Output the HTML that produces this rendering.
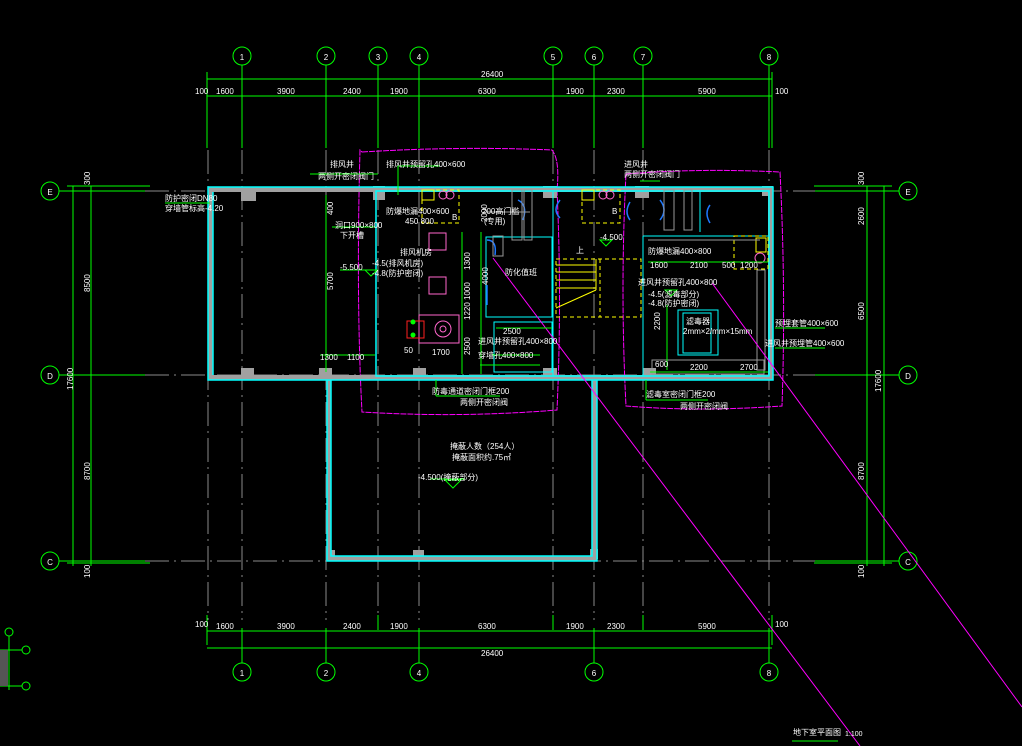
<!DOCTYPE html>
<html><head><meta charset="utf-8"><style>
html,body{margin:0;padding:0;background:#000;width:1022px;height:746px;overflow:hidden}
svg{display:block}
text{font-family:"Liberation Sans","Noto Sans CJK SC",sans-serif;fill:#fff;font-size:8px}
.g{stroke:#00ff00;stroke-width:1;fill:none}
.ax{stroke:#8a8a8a;stroke-width:1;stroke-dasharray:24 5 2 5;fill:none}
.c{stroke:#00ffff;stroke-width:1.5;fill:none}
.w{fill:#a0a0a0}
.m{stroke:#ff00ff;stroke-width:1;fill:none}
.y{stroke:#ffff00;stroke-width:1;fill:none}
.yd{stroke:#ffff00;stroke-width:1;fill:none;stroke-dasharray:4 3}
.b{stroke:#1e78ff;stroke-width:1.5;fill:none}
.ct{font-size:11px;text-anchor:middle;fill:#fff}
</style></head><body>
<svg width="1022" height="746" viewBox="0 0 1022 746" xmlns="http://www.w3.org/2000/svg">
<g class="ax">
<line x1="242" y1="150" x2="242" y2="620"/><line x1="326" y1="150" x2="326" y2="620"/>
<line x1="378" y1="150" x2="378" y2="620"/><line x1="419" y1="150" x2="419" y2="620"/>
<line x1="553" y1="150" x2="553" y2="620"/><line x1="594" y1="150" x2="594" y2="620"/>
<line x1="643" y1="150" x2="643" y2="620"/><line x1="769" y1="150" x2="769" y2="620"/>
<line x1="208" y1="150" x2="208" y2="620"/>
<line x1="145" y1="191" x2="815" y2="191"/><line x1="145" y1="375" x2="815" y2="375"/><line x1="145" y1="561" x2="815" y2="561"/>
</g>
<g class="g">
<line x1="242" y1="65" x2="242" y2="148"/><line x1="326" y1="65" x2="326" y2="148"/><line x1="378" y1="65" x2="378" y2="148"/><line x1="419" y1="65" x2="419" y2="148"/><line x1="553" y1="65" x2="553" y2="148"/><line x1="594" y1="65" x2="594" y2="148"/><line x1="643" y1="65" x2="643" y2="148"/><line x1="769" y1="65" x2="769" y2="148"/>
<line x1="207" y1="72" x2="207" y2="148"/><line x1="772" y1="72" x2="772" y2="148"/>
<line x1="207" y1="79" x2="772" y2="79"/><line x1="207" y1="96" x2="772" y2="96"/>
<circle cx="242" cy="56" r="9"/><circle cx="326" cy="56" r="9"/><circle cx="378" cy="56" r="9"/><circle cx="419" cy="56" r="9"/><circle cx="553" cy="56" r="9"/><circle cx="594" cy="56" r="9"/><circle cx="643" cy="56" r="9"/><circle cx="769" cy="56" r="9"/>
<line x1="242" y1="628" x2="242" y2="663"/><line x1="326" y1="628" x2="326" y2="663"/><line x1="419" y1="628" x2="419" y2="663"/><line x1="594" y1="628" x2="594" y2="663"/><line x1="769" y1="628" x2="769" y2="663"/><line x1="378" y1="615" x2="378" y2="630"/><line x1="553" y1="615" x2="553" y2="630"/><line x1="643" y1="615" x2="643" y2="630"/>
<line x1="207" y1="615" x2="207" y2="645"/><line x1="772" y1="615" x2="772" y2="645"/>
<line x1="207" y1="631" x2="772" y2="631"/><line x1="207" y1="648" x2="772" y2="648"/>
<circle cx="242" cy="672" r="9"/><circle cx="326" cy="672" r="9"/><circle cx="419" cy="672" r="9"/><circle cx="594" cy="672" r="9"/><circle cx="769" cy="672" r="9"/>
<circle cx="50" cy="191" r="9"/><circle cx="50" cy="375" r="9"/><circle cx="50" cy="561" r="9"/>
<line x1="59" y1="191" x2="145" y2="191"/><line x1="59" y1="375" x2="145" y2="375"/><line x1="59" y1="561" x2="145" y2="561"/>
<line x1="67" y1="186" x2="150" y2="186"/><line x1="67" y1="563" x2="150" y2="563"/>
<line x1="73" y1="186" x2="73" y2="566"/><line x1="91" y1="186" x2="91" y2="566"/>
<circle cx="908" cy="191" r="9"/><circle cx="908" cy="375" r="9"/><circle cx="908" cy="561" r="9"/>
<line x1="815" y1="191" x2="899" y2="191"/><line x1="815" y1="375" x2="899" y2="375"/><line x1="815" y1="561" x2="899" y2="561"/>
<line x1="814" y1="186" x2="892" y2="186"/><line x1="814" y1="563" x2="892" y2="563"/>
<line x1="867" y1="186" x2="867" y2="566"/><line x1="884" y1="186" x2="884" y2="566"/>
<circle cx="9" cy="632" r="4"/><circle cx="26" cy="650" r="4"/><circle cx="26" cy="686" r="4"/>
<line x1="9" y1="636" x2="9" y2="690"/><line x1="0" y1="650" x2="22" y2="650"/><line x1="0" y1="686" x2="22" y2="686"/>
</g>
<rect x="0" y="650" width="8" height="36" fill="#555"/>
<g class="ct">
<text x="242" y="60">1</text><text x="326" y="60">2</text><text x="378" y="60">3</text><text x="419" y="60">4</text><text x="553" y="60">5</text><text x="594" y="60">6</text><text x="643" y="60">7</text><text x="769" y="60">8</text>
<text x="242" y="676">1</text><text x="326" y="676">2</text><text x="419" y="676">4</text><text x="594" y="676">6</text><text x="769" y="676">8</text>
<text x="50" y="195">E</text><text x="50" y="379">D</text><text x="50" y="565">C</text>
<text x="908" y="195">E</text><text x="908" y="379">D</text><text x="908" y="565">C</text>
</g>
<g style="font-size:8px">
<text x="481" y="77">26400</text>
<text x="195" y="94">100</text><text x="216" y="94">1600</text><text x="277" y="94">3900</text><text x="343" y="94">2400</text><text x="390" y="94">1900</text><text x="478" y="94">6300</text><text x="566" y="94">1900</text><text x="607" y="94">2300</text><text x="698" y="94">5900</text><text x="775" y="94">100</text>
<text x="195" y="627">100</text><text x="216" y="629">1600</text><text x="277" y="629">3900</text><text x="343" y="629">2400</text><text x="390" y="629">1900</text><text x="478" y="629">6300</text><text x="566" y="629">1900</text><text x="607" y="629">2300</text><text x="698" y="629">5900</text><text x="775" y="627">100</text>
<text x="481" y="656">26400</text>
<text transform="translate(90,292) rotate(-90)">8500</text>
<text transform="translate(90,480) rotate(-90)">8700</text>
<text transform="translate(73,390) rotate(-90)">17600</text>
<text transform="translate(90,185) rotate(-90)">300</text>
<text transform="translate(90,578) rotate(-90)">100</text>
<text transform="translate(864,185) rotate(-90)">300</text>
<text transform="translate(864,225) rotate(-90)">2600</text>
<text transform="translate(864,320) rotate(-90)">6500</text>
<text transform="translate(864,480) rotate(-90)">8700</text>
<text transform="translate(881,392) rotate(-90)">17600</text>
<text transform="translate(864,578) rotate(-90)">100</text>
</g>
<path class="m" d="M362 152 Q460 146 552 150 Q560 160 557 190 Q562 300 557 410 Q460 418 362 412 Q356 300 360 150Z" stroke-dasharray="6 1"/>
<path class="m" d="M626 174 Q700 168 780 172 Q786 290 782 406 Q700 412 626 406 Q620 290 626 174Z" stroke-dasharray="6 1"/>
<rect class="w" x="208" y="187" width="565" height="5"/>
<rect class="w" x="208" y="187" width="5" height="192"/>
<rect class="w" x="208" y="375" width="170" height="5"/>
<rect class="w" x="375" y="375" width="398" height="5"/>
<rect class="w" x="327" y="375" width="4" height="186"/>
<rect class="w" x="327" y="556" width="270" height="5"/>
<rect class="w" x="592" y="375" width="5" height="186"/>
<rect class="w" x="768" y="187" width="5" height="192"/>
<g class="w"><rect x="241" y="191" width="15" height="10"/><rect x="241" y="368" width="13" height="10"/><rect x="319" y="368" width="13" height="10"/><rect x="373" y="186" width="12" height="14"/><rect x="543" y="186" width="14" height="12"/><rect x="543" y="368" width="14" height="10"/><rect x="413" y="368" width="13" height="10"/><rect x="635" y="186" width="14" height="12"/><rect x="762" y="186" width="11" height="10"/><rect x="327" y="550" width="8" height="8"/><rect x="413" y="550" width="11" height="8"/><rect x="590" y="549" width="8" height="10"/><rect x="643" y="368" width="13" height="8"/></g>
<rect class="c" x="208" y="187" width="565" height="193"/>
<rect class="c" x="376" y="191" width="393" height="185"/>
<line class="c" x1="213" y1="192" x2="213" y2="375"/>
<path class="c" d="M331 380 V556 H592 V380"/>
<path class="c" d="M327 380 V561 H597 V380"/>
<g class="c" style="stroke-width:1">
<rect x="486" y="237" width="66" height="80"/><rect x="494" y="322" width="58" height="50"/>
<line x1="553" y1="192" x2="553" y2="376"/><line x1="643" y1="236" x2="643" y2="376"/>
<line x1="643" y1="236" x2="768" y2="236"/>
<rect x="678" y="310" width="40" height="45"/><rect x="683" y="313" width="28" height="40"/>
<line x1="700" y1="192" x2="700" y2="232"/>
</g>
<g class="b"><path d="M518 200 q10 5 5 20"/><path d="M560 200 q-8 10 0 18"/><path d="M630 202 q-6 10 0 18"/><path d="M660 200 q8 10 0 20"/><path d="M710 205 q-6 8 0 18"/><line x1="487" y1="285" x2="487" y2="305"/><path d="M487 240 q10 0 8 15"/></g>
<g class="yd"><rect x="556" y="259" width="85" height="58"/><line x1="600" y1="259" x2="600" y2="317"/><rect x="422" y="190" width="37" height="33"/><rect x="582" y="190" width="38" height="33"/><rect x="734" y="236" width="34" height="33"/></g>
<g class="y"><line x1="556" y1="265" x2="596" y2="265"/><line x1="556" y1="272" x2="596" y2="272"/><line x1="556" y1="280" x2="596" y2="280"/><line x1="556" y1="288" x2="596" y2="288"/><line x1="596" y1="259" x2="596" y2="290"/><line x1="556" y1="308" x2="596" y2="290"/><rect x="422" y="190" width="12" height="10"/><rect x="582" y="190" width="12" height="10"/><rect x="756" y="238" width="10" height="14"/></g>
<g stroke="#999" fill="none"><rect x="512" y="190" width="10" height="50"/><rect x="524" y="190" width="8" height="50"/><rect x="664" y="190" width="10" height="40"/><rect x="684" y="190" width="8" height="40"/><rect x="757" y="270" width="8" height="100"/><rect x="652" y="360" width="112" height="14"/><rect x="493" y="236" width="10" height="20"/><line x1="486" y1="212" x2="530" y2="212"/><line x1="648" y1="240" x2="760" y2="240"/></g>
<g stroke="#ff66cc" fill="none"><rect x="429" y="233" width="17" height="17"/><rect x="429" y="277" width="17" height="17"/><rect x="419" y="315" width="40" height="28"/><circle cx="443" cy="329" r="8"/><circle cx="443" cy="329" r="3"/><circle cx="443" cy="195" r="4"/><circle cx="450" cy="195" r="4"/><circle cx="603" cy="195" r="4"/><circle cx="610" cy="195" r="4"/><circle cx="760" cy="258" r="5"/></g>
<line class="m" x1="493" y1="258" x2="860" y2="746"/>
<line class="m" x1="712" y1="283" x2="1022" y2="707"/>
<g class="g">
<line x1="462" y1="232" x2="462" y2="374"/><line x1="481" y1="232" x2="481" y2="374"/><line x1="496" y1="328" x2="552" y2="328"/>
<line x1="326" y1="195" x2="326" y2="372"/><line x1="320" y1="355" x2="375" y2="355"/>
<line x1="648" y1="262" x2="768" y2="262"/><line x1="667" y1="305" x2="667" y2="370"/><line x1="650" y1="372" x2="768" y2="372"/>
<line x1="398" y1="166" x2="440" y2="166"/><line x1="310" y1="174" x2="378" y2="174"/><line x1="398" y1="166" x2="398" y2="195"/>
<line x1="640" y1="181" x2="660" y2="181"/><line x1="165" y1="203" x2="210" y2="203"/><line x1="332" y1="227" x2="375" y2="227"/><line x1="340" y1="270" x2="378" y2="270"/>
<line x1="436" y1="396" x2="500" y2="396"/><line x1="436" y1="380" x2="436" y2="396"/><line x1="646" y1="400" x2="708" y2="400"/><line x1="646" y1="380" x2="646" y2="400"/>
<line x1="775" y1="328" x2="825" y2="328"/><line x1="775" y1="348" x2="825" y2="348"/>
<line x1="492" y1="355" x2="540" y2="355"/><line x1="480" y1="365" x2="540" y2="365"/>
<path d="M445 480 l8 8 l8 -8 Z"/><path d="M600 240 l6 6 l6 -6Z"/><path d="M665 290 l6 6 l6-6Z"/><path d="M365 270 l6 6 l6-6Z"/>
<line x1="430" y1="479" x2="465" y2="479"/>
</g>
<g stroke="#ff2020" fill="none"><rect x="407" y="321" width="17" height="17"/></g>
<g fill="#00ff00"><circle cx="413" cy="322" r="2.5"/><circle cx="413" cy="335" r="2.5"/></g>
<g style="font-size:7px">
<text x="165" y="201">防护密闭DN80</text><text x="165" y="211">穿墙管标高-4.20</text>
<text x="330" y="167">排风井</text><text x="318" y="179">两侧开密闭阀门</text>
<text x="386" y="167">排风井预留孔400×600</text>
<text x="624" y="167">进风井</text><text x="624" y="177">两侧开密闭阀门</text>
<text x="386" y="214">防爆地漏400×600</text><text x="405" y="224">450   800</text>
<text x="482" y="214">200高门槛</text><text x="484" y="224">(专用)</text>
<text x="335" y="228">洞口900×800</text><text x="340" y="238">下开槽</text>
<text x="340" y="270">-5.500</text><text x="372" y="266">-4.5(排风机房)</text><text x="372" y="276">-4.8(防护密闭)</text>
<text x="400" y="255">排风机房</text><text x="505" y="275">防化值班</text>
<text x="320" y="360">1300</text><text x="347" y="360">1100</text>
<text x="404" y="353">50</text><text x="432" y="355">1700</text>
<text x="503" y="334">2500</text>
<text x="478" y="344">进风井预留孔400×800</text><text x="478" y="358">穿墙孔400×800</text>
<text x="432" y="394">防毒通道密闭门框200</text><text x="460" y="405">两侧开密闭阀</text>
<text x="450" y="449">掩蔽人数（254人）</text><text x="452" y="460">掩蔽面积约.75㎡</text>
<text x="418" y="480">-4.500(掩蔽部分)</text>
<text x="600" y="240">-4.500</text><text x="576" y="253">上</text>
<text x="648" y="254">防爆地漏400×800</text>
<text x="650" y="268">1600</text><text x="690" y="268">2100</text><text x="722" y="268">500</text><text x="740" y="268">1200</text>
<text x="638" y="285">进风井预留孔400×800</text>
<text x="648" y="297">-4.5(滤毒部分)</text><text x="648" y="306">-4.8(防护密闭)</text>
<text x="686" y="324">滤毒器</text><text x="683" y="334">2mm×2/mm×15mm</text>
<text x="655" y="367">600</text><text x="690" y="370">2200</text><text x="740" y="370">2700</text>
<text x="775" y="326">预埋套管400×600</text><text x="765" y="346">进风井预埋管400×600</text>
<text x="646" y="397">滤毒室密闭门框200</text><text x="680" y="409">两侧开密闭阀</text>
<text x="612" y="214">B</text><text x="452" y="220">B</text>
</g>
<g style="font-size:7px">
<text transform="translate(333,215) rotate(-90)">400</text><text transform="translate(333,290) rotate(-90)">5700</text>
<text transform="translate(470,270) rotate(-90)">1300</text><text transform="translate(470,300) rotate(-90)">1000</text><text transform="translate(470,320) rotate(-90)">1220</text><text transform="translate(470,355) rotate(-90)">2500</text>
<text transform="translate(488,285) rotate(-90)">4000</text><text transform="translate(487,222) rotate(-90)">2000</text>
<text transform="translate(660,330) rotate(-90)">2200</text>
</g>
<text x="793" y="735" style="font-size:8px">地下室平面图</text><text x="845" y="736" style="font-size:7px">1:100</text>
<line x1="792" y1="741" x2="838" y2="741" class="g"/>
</svg>
</body></html>
